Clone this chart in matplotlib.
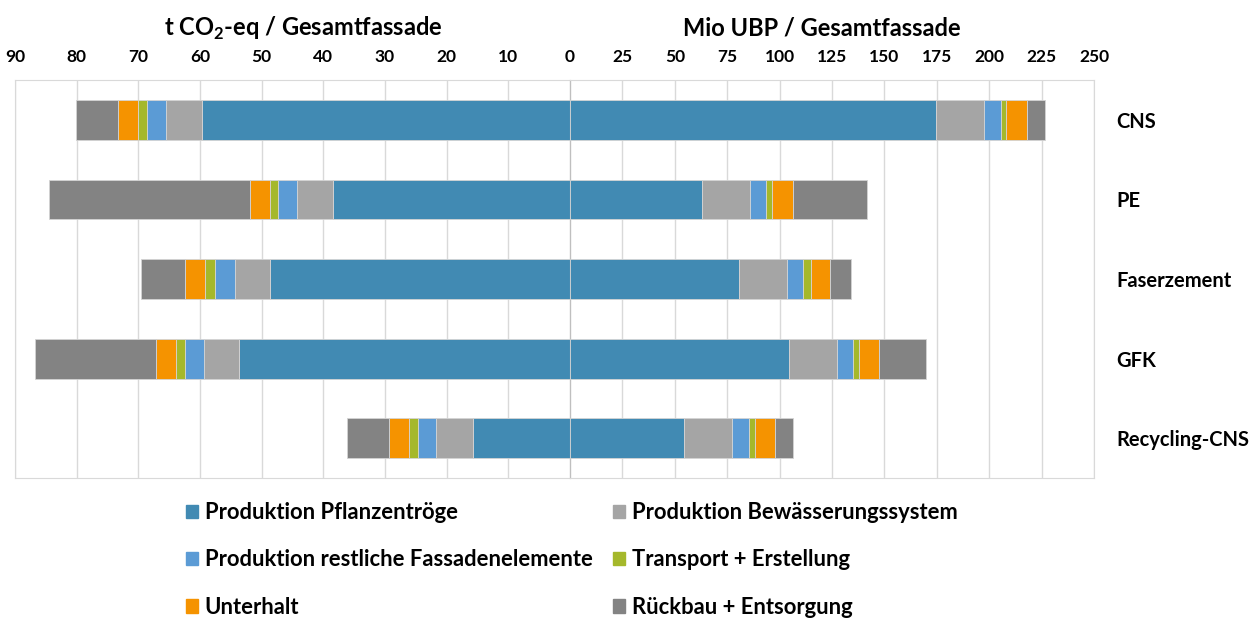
import matplotlib.pyplot as plt
from matplotlib.patches import Patch
import numpy as np

plt.rcParams['font.family'] = ['Lato', 'DejaVu Sans']
plt.rcParams['font.weight'] = 'bold'
plt.rcParams['mathtext.fontset'] = 'custom'
plt.rcParams['mathtext.rm'] = 'Lato:bold'
plt.rcParams['mathtext.bf'] = 'Lato:bold'

varianten = ['CNS', 'PE', 'Faserzement', 'GFK', 'Recycling-CNS']
komponenten = ['Produktion Pflanzentröge', 'Produktion Bewässerungssystem',
               'Produktion restliche Fassadenelemente', 'Transport + Erstellung',
               'Unterhalt', 'Rückbau + Entsorgung']
farben = ['#418ab3', '#a5a5a5', '#5b9bd5', '#a5b82b', '#f59300', '#838383']

# t CO2-eq / Gesamtfassade
co2_pflanztroege = [59.7, 38.4, 48.7, 53.6, 15.7]
co2_bewaesserung = [5.8, 5.8, 5.7, 5.8, 6.0]
co2_restliche = [3.1, 3.2, 3.2, 3.1, 3.0]
co2_transport = [1.5, 1.3, 1.6, 1.4, 1.4]
co2_unterhalt = [3.2, 3.2, 3.3, 3.3, 3.3]
co2_rueckbau = [6.8, 32.6, 7.1, 19.5, 6.7]

# Mio UBP / Gesamtfassade
ubp_pflanztroege = [174.7, 63.0, 80.6, 104.4, 54.3]
ubp_bewaesserung = [23.0, 22.7, 23.0, 23.0, 23.2]
ubp_restliche = [8.0, 8.0, 7.7, 7.7, 7.9]
ubp_transport = [2.5, 2.9, 3.5, 2.9, 2.7]
ubp_unterhalt = [9.7, 9.6, 9.4, 9.6, 9.5]
ubp_rueckbau = [8.9, 35.5, 9.9, 22.4, 8.9]

co2 = [co2_pflanztroege, co2_bewaesserung, co2_restliche, co2_transport, co2_unterhalt, co2_rueckbau]
ubp = [ubp_pflanztroege, ubp_bewaesserung, ubp_restliche, ubp_transport, ubp_unterhalt, ubp_rueckbau]

fig = plt.figure(figsize=(12.57, 6.19), dpi=100)
ax_l = fig.add_axes([15/1257, 1-478/619, 555/1257, 398/619])
ax_r = fig.add_axes([570/1257, 1-478/619, 524/1257, 398/619])

y = np.arange(len(varianten))

for ax, daten in [(ax_l, co2), (ax_r, ubp)]:
    links = np.zeros(len(varianten))
    for werte, farbe in zip(daten, farben):
        ax.barh(y, werte, left=links, height=0.5, color=farbe, edgecolor='#d4d4d4', linewidth=0.6, zorder=3)
        links += np.array(werte)
    ax.set_ylim(len(varianten)-0.5, -0.5)
    ax.xaxis.tick_top()
    ax.tick_params(axis='x', length=0, pad=11, labelsize=12.5)
    ax.grid(axis='x', color='#d9d9d9', linewidth=1, zorder=0)
    for s in ax.spines.values():
        s.set_color('#d9d9d9')

ax_l.set_xlim(90, 0)
ax_l.set_xticks(np.arange(0, 91, 10))
ax_l.set_xticklabels([''] + [str(v) for v in range(10, 91, 10)])
ax_l.set_yticks([])
ax_l.spines['right'].set_visible(False)

ax_r.set_xlim(0, 250)
ax_r.set_xticks(np.arange(0, 251, 25))
ax_r.yaxis.tick_right()
ax_r.set_yticks(y)
ax_r.set_yticklabels(varianten)
ax_r.tick_params(axis='y', length=0, pad=16, labelsize=14.5)
ax_r.spines['left'].set_color('#bfbfbf')

fig.text(303/1257, 1-28/619, r't CO$_2$-eq / Gesamtfassade', ha='center', va='center', fontsize=17)
fig.text(822/1257, 1-28/619, 'Mio UBP / Gesamtfassade', ha='center', va='center', fontsize=17)

reihenfolge = [0, 2, 4, 1, 3, 5]
handles = [Patch(color=farben[i], label=komponenten[i]) for i in reihenfolge]
fig.legend(handles=handles, ncol=2, loc='upper left', bbox_to_anchor=(186/1257, 1-502/619),
           frameon=False, fontsize=15.8, handlelength=0.55, handleheight=0.55, handletextpad=0.3,
           labelspacing=1.2, columnspacing=0.95, borderpad=0, borderaxespad=0)

fig.savefig('out.png', dpi=100)
